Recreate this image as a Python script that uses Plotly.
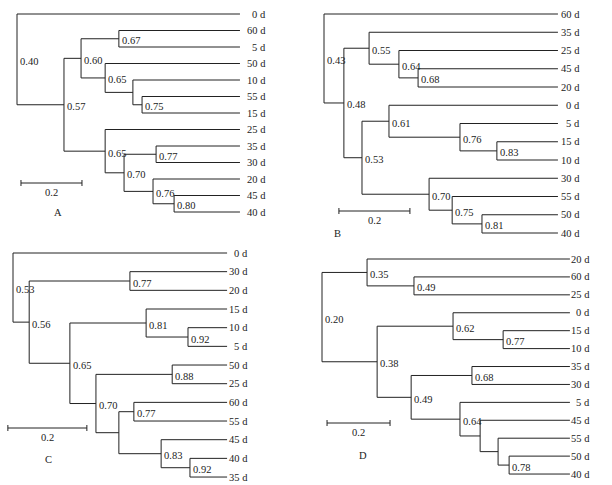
import plotly.graph_objects as go

FONT = "Liberation Serif, Times New Roman, serif"
INK = "#222222"

# ---------------- data: leaf order (top to bottom) and merge nodes ----------------
# node id: (support label, branch depth from root in distance units, upper child, lower child)
A_leaves = ["0 d", "60 d", "5 d", "50 d", "10 d", "55 d", "15 d", "25 d", "35 d", "30 d", "20 d", "45 d", "40 d"]
A_nodes = {
    "r":   ("0.40", 0.000, "0 d", "n57"),
    "n57": ("0.57", 0.154, "n60", "n65b"),
    "n60": ("0.60", 0.210, "n67", "n65a"),
    "n67": ("0.67", 0.334, "60 d", "5 d"),
    "n65a": ("0.65", 0.289, "50 d", "nu"),
    "nu":  ("", 0.380, "10 d", "n75"),
    "n75": ("0.75", 0.410, "55 d", "15 d"),
    "n65b": ("0.65", 0.289, "25 d", "n70"),
    "n70": ("0.70", 0.351, "n77", "n76"),
    "n77": ("0.77", 0.456, "35 d", "30 d"),
    "n76": ("0.76", 0.446, "20 d", "n80"),
    "n80": ("0.80", 0.515, "45 d", "40 d"),
}
A_leaf_depth = 0.731

B_leaves = ["60 d", "35 d", "25 d", "45 d", "20 d", "0 d", "5 d", "15 d", "10 d", "30 d", "55 d", "50 d", "40 d"]
B_nodes = {
    "r":   ("0.43", 0.000, "60 d", "n48"),
    "n48": ("0.48", 0.056, "n55", "n53"),
    "n55": ("0.55", 0.127, "35 d", "n64"),
    "n64": ("0.64", 0.211, "25 d", "n68"),
    "n68": ("0.68", 0.265, "45 d", "20 d"),
    "n53": ("0.53", 0.107, "n61", "n70"),
    "n61": ("0.61", 0.183, "0 d", "n76"),
    "n76": ("0.76", 0.383, "5 d", "n83"),
    "n83": ("0.83", 0.487, "15 d", "10 d"),
    "n70": ("0.70", 0.296, "30 d", "n75"),
    "n75": ("0.75", 0.361, "55 d", "n81"),
    "n81": ("0.81", 0.445, "50 d", "40 d"),
}
B_leaf_depth = 0.659

C_leaves = ["0 d", "30 d", "20 d", "15 d", "10 d", "5 d", "50 d", "25 d", "60 d", "55 d", "45 d", "40 d", "35 d"]
C_nodes = {
    "r":    ("0.53", 0.000, "0 d", "n56"),
    "n56":  ("0.56", 0.041, "n77a", "n65"),
    "n77a": ("0.77", 0.296, "30 d", "20 d"),
    "n65":  ("0.65", 0.144, "n81", "n70"),
    "n81":  ("0.81", 0.337, "15 d", "n92a"),
    "n92a": ("0.92", 0.443, "10 d", "5 d"),
    "n70":  ("0.70", 0.210, "n88", "nu"),
    "n88":  ("0.88", 0.403, "50 d", "25 d"),
    "nu":   ("", 0.268, "n77b", "n83"),
    "n77b": ("0.77", 0.306, "60 d", "55 d"),
    "n83":  ("0.83", 0.375, "45 d", "n92b"),
    "n92b": ("0.92", 0.448, "40 d", "35 d"),
}
C_leaf_depth = 0.542

D_leaves = ["20 d", "60 d", "25 d", "0 d", "15 d", "10 d", "35 d", "30 d", "5 d", "45 d", "55 d", "50 d", "40 d"]
D_nodes = {
    "r":    ("0.20", 0.000, "n35", "n38"),
    "n35":  ("0.35", 0.143, "20 d", "n49a"),
    "n49a": ("0.49", 0.292, "60 d", "25 d"),
    "n38":  ("0.38", 0.175, "n62", "n49b"),
    "n62":  ("0.62", 0.416, "0 d", "n77"),
    "n77":  ("0.77", 0.575, "15 d", "10 d"),
    "n49b": ("0.49", 0.283, "n68", "n64"),
    "n68":  ("0.68", 0.476, "35 d", "30 d"),
    "n64":  ("0.64", 0.438, "5 d", "nu1"),
    "nu1":  ("", 0.502, "45 d", "nu2"),
    "nu2":  ("", 0.559, "55 d", "n78"),
    "n78":  ("0.78", 0.594, "50 d", "40 d"),
}
D_leaf_depth = 0.787

SCALE_LEN = 0.2
panel_letters = ["A", "B", "C", "D"]

# ---------------- layout (pixel placement of each panel) ----------------
W, H = 612, 485
panels = [
    dict(leaves=A_leaves, nodes=A_nodes, ld=A_leaf_depth, root=17, ppu=305, y0=14, step=16.5,
         lshift=28, sy=183, sx=0.013, letter=(52, 212)),
    dict(leaves=B_leaves, nodes=B_nodes, ld=B_leaf_depth, root=324, ppu=355, y0=14, step=18.25,
         lshift=24, sy=211, sx=0.042, letter=(337, 233)),
    dict(leaves=C_leaves, nodes=C_nodes, ld=C_leaf_depth, root=13, ppu=395, y0=253, step=18.67,
         lshift=23, sy=428, sx=-0.013, letter=(43, 467)),
    dict(leaves=D_leaves, nodes=D_nodes, ld=D_leaf_depth, root=322, ppu=315, y0=259, step=17.92,
         lshift=22, sy=423, sx=0.016, letter=(363, 463)),
]


def build(nodes, leaves, leaf_depth):
    ypos = {n: i for i, n in enumerate(leaves)}
    xpos = {n: leaf_depth for n in leaves}

    def gety(n):
        if n in ypos:
            return ypos[n]
        lab, d, l, r = nodes[n]
        ypos[n] = (gety(l) + gety(r)) / 2
        xpos[n] = d
        return ypos[n]

    gety("r")
    xs, ys = [], []
    for n, (lab, d, l, r) in nodes.items():
        xs += [d, d, None]
        ys += [ypos[l], ypos[r], None]
        for c in (l, r):
            xs += [d, xpos[c], None]
            ys += [ypos[c], ypos[c], None]
    return xs, ys, ypos, xpos


fig = go.Figure()
annotations = []
layout_axes = {}
txt = dict(family=FONT, size=10.5, color=INK)

for k, p in enumerate(panels):
    sfx = "" if k == 0 else str(k + 1)
    xa, ya = "x" + sfx, "y" + sfx
    xs, ys, ypos, xpos = build(p["nodes"], p["leaves"], p["ld"])
    fig.add_trace(go.Scatter(x=xs, y=ys, mode="lines", xaxis=xa, yaxis=ya,
                             line=dict(color=INK, width=1), hoverinfo="skip", showlegend=False))
    # scale bar
    sy = (p["sy"] - p["y0"]) / p["step"]
    th = 3.0 / p["step"]
    x0, x1 = p["sx"], p["sx"] + SCALE_LEN
    fig.add_trace(go.Scatter(x=[x0, x1, None, x0, x0, None, x1, x1],
                             y=[sy, sy, None, sy - th, sy + th, None, sy - th, sy + th],
                             mode="lines", xaxis=xa, yaxis=ya,
                             line=dict(color=INK, width=1), hoverinfo="skip", showlegend=False))
    annotations.append(dict(x=(x0 + x1) / 2, y=sy, xref=xa, yref=ya, text=str(SCALE_LEN),
                            showarrow=False, yshift=-9, font=txt))
    # leaf labels
    for i, name in enumerate(p["leaves"]):
        annotations.append(dict(x=p["ld"], y=i, xref=xa, yref=ya, text=name, showarrow=False,
                                xanchor="right", xshift=p["lshift"], font=txt))
    # node labels
    for n, (lab, d, l, r) in p["nodes"].items():
        if lab:
            annotations.append(dict(x=d, y=ypos[n], xref=xa, yref=ya, text=lab, showarrow=False,
                                    xanchor="left", xshift=1, yshift=-2, font=txt))
    # panel letter
    lx, ly = p["letter"]
    annotations.append(dict(x=lx / W, y=1 - ly / H, xref="paper", yref="paper", text=panel_letters[k],
                            showarrow=False, font=txt))
    xr = [(0 - p["root"]) / p["ppu"], (W - p["root"]) / p["ppu"]]
    yr = [(H - p["y0"]) / p["step"], (0 - p["y0"]) / p["step"]]
    xkey = "xaxis" + sfx
    ykey = "yaxis" + sfx
    xdef = dict(range=xr, visible=False, domain=[0, 1], fixedrange=True)
    ydef = dict(range=yr, visible=False, domain=[0, 1], fixedrange=True)
    if k > 0:
        xdef["overlaying"] = "x"
        ydef["overlaying"] = "y"
    xdef["anchor"] = ya
    ydef["anchor"] = xa
    layout_axes[xkey] = xdef
    layout_axes[ykey] = ydef

fig.update_layout(width=W, height=H, margin=dict(l=0, r=0, t=0, b=0),
                  paper_bgcolor="white", plot_bgcolor="rgba(0,0,0,0)",
                  annotations=annotations, **layout_axes)

fig.write_html("out.html", config={"displayModeBar": False},
               post_script="document.body.style.margin='0';document.body.style.overflow='hidden';")
